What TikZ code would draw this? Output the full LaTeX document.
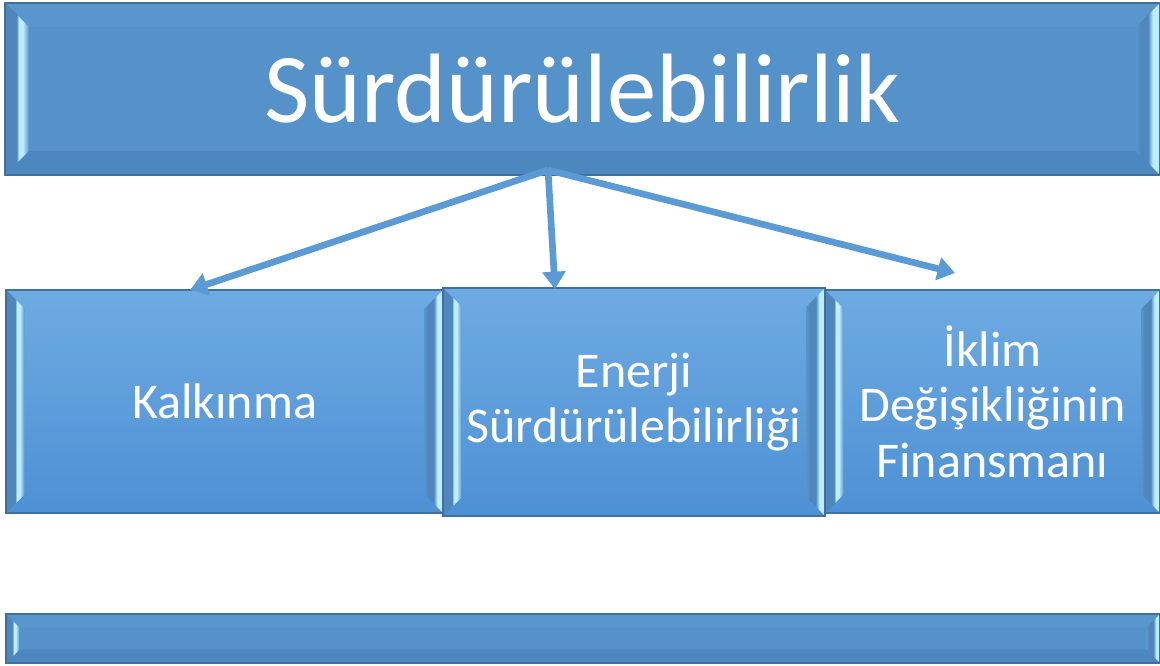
\documentclass[tikz,border=0pt]{standalone}
\usepackage{fontspec}
\setmainfont{Carlito}
\usetikzlibrary{arrows.meta,calc}

\definecolor{topfill}{HTML}{5592C9}
\definecolor{bvtopc}{HTML}{5896CC}
\definecolor{bvbotc}{HTML}{4C87BF}
\definecolor{edgec}{HTML}{41709C}
\definecolor{lowtop}{HTML}{6FABE3}
\definecolor{lowbot}{HTML}{4D90D4}
\definecolor{arrc}{HTML}{5B9BD5}
\definecolor{bvdark}{HTML}{4F86BC}
\definecolor{bvlight}{HTML}{BCEEFF}
\definecolor{bvmid}{HTML}{5894CC}

\pgfdeclarehorizontalshading{lbev}{100bp}{color(0bp)=(bvdark); color(25bp)=(bvdark); color(49bp)=(bvdark); color(54bp)=(bvlight); color(62bp)=(bvlight); color(75bp)=(bvmid); color(100bp)=(bvmid)}
\pgfdeclarehorizontalshading{rbev}{100bp}{color(0bp)=(bvmid); color(25bp)=(bvmid); color(35bp)=(bvdark); color(50bp)=(bvdark); color(60bp)=(bvlight); color(75bp)=(bvlight); color(100bp)=(bvlight)}

\newcommand\bvpaint[2]{%
  \coordinate (bvA) at (path picture bounding box.north west);
  \coordinate (bvC) at (path picture bounding box.south east);
  \coordinate (bvB) at (bvC |- bvA);
  \coordinate (bvD) at (bvA |- bvC);
  \coordinate (bva) at ([shift={(#1,-#1)}]bvA);
  \coordinate (bvb) at ([shift={(-#1,-#1)}]bvB);
  \coordinate (bvc) at ([shift={(-#1,#1)}]bvC);
  \coordinate (bvd) at ([shift={(#1,#1)}]bvD);
  \ifnum#2=1
    \fill[bvtopc] (bvA) -- (bvB) -- (bvb) -- (bva) -- cycle;
    \fill[bvbotc] (bvD) -- (bvC) -- (bvc) -- (bvd) -- cycle;
  \fi
  \shade[shading=lbev] (bvA) -- (bva) -- (bvd) -- (bvD) -- cycle;
  \shade[shading=rbev] (bvB) -- (bvb) -- (bvc) -- (bvC) -- cycle;
}

\tikzset{
  topbox/.style={draw=edgec, line width=0.8pt, fill=topfill, text=white,
    inner sep=0pt, path picture={\bvpaint{18pt}{1}}},
  lowbox/.style={draw=edgec, line width=0.8pt, top color=lowtop, bottom color=lowbot,
    text=white, inner sep=0pt, align=center,
    font=\fontsize{37.5}{41.5}\selectfont, path picture={\bvpaint{14pt}{0}}},
  arr/.style={line width=5pt, draw=arrc, -{Triangle[length=13pt,width=17pt]}},
}

\begin{document}
\begin{tikzpicture}[x=0.75pt,y=-0.75pt]
\useasboundingbox (0,0) rectangle (1160,666);

\node[topbox, minimum width=866.25pt, minimum height=129pt,
  font=\fontsize{74}{80}\selectfont] (top) at (582.5,89) {Sürdürülebilirlik};

\node[lowbox, minimum width=327.75pt, minimum height=167.25pt] (kal) at (224.5,401.5) {Kalkınma};
\node[lowbox, minimum width=251.25pt, minimum height=167.25pt] (ikl) at (992.5,401.5) {İklim\\Değişikliğinin\\Finansmanı};
\node[lowbox, minimum width=286.5pt, minimum height=171pt] (ene) at (634,402) {Enerji\\Sürdürülebilirliği};

\node[topbox, minimum width=865.5pt, minimum height=36.75pt, path picture={\bvpaint{10pt}{1}}] (bar) at (583,638.5) {};

\coordinate (src) at (548,170);
\coordinate (tipL) at (190,290);
\coordinate (tipM) at (555,289);
\coordinate (tipR) at (955,273);

\draw[arr] (src) -- (tipL);
\draw[arr] (src) -- (tipM);
\draw[arr] (src) -- (tipR);
\end{tikzpicture}
\end{document}
